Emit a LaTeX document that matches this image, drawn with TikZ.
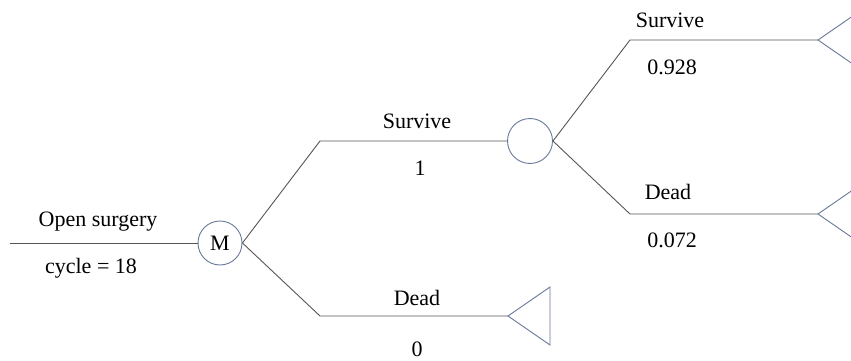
\documentclass[tikz,border=0pt]{standalone}
\usepackage{fontspec}
\setmainfont{Liberation Serif}
\definecolor{shapecol}{RGB}{105,120,155}
\definecolor{linecol}{RGB}{85,85,85}
\begin{document}
\begin{tikzpicture}[x=1pt,y=-1pt,
  branch/.style={draw=linecol, line width=0.9pt},
  nodeshape/.style={draw=shapecol, line width=0.9pt, fill=white},
  lbl/.style={font=\fontsize{22}{24}\selectfont, inner sep=0pt, text=black}]
\clip (0,0) rectangle (851,361);
\useasboundingbox (0,0) rectangle (851,361);
% markov node
\node[nodeshape, circle, minimum size=44pt, inner sep=0pt, lbl] (M) at (220,243) {M};
\coordinate (start) at (10,243);
\draw[branch] (start) -- (M.west);
\node[lbl] (os) at (98,222) {Open surgery};
\node[lbl] (cy) at (91,268) {cycle = 18};
% chance node
\node[nodeshape, circle, minimum size=45pt, inner sep=0pt] (C) at (530,141) {};
% bends
\coordinate (b1) at (320,141);
\coordinate (b2) at (320,316);
\coordinate (b3) at (630,40);
\coordinate (b4) at (630,214);
% terminal tips
\coordinate (t1) at (508,316);
\coordinate (t2) at (818,40);
\coordinate (t3) at (818,214);
\draw[branch] (M.east) -- (b1) -- (C.west);
\draw[branch] (M.east) -- (b2) -- (t1);
\draw[branch] (C.east) -- (b3) -- (t2);
\draw[branch] (C.east) -- (b4) -- (t3);
\foreach \t in {t1,t2,t3}
  \draw[nodeshape, line join=miter] (\t) -- ++(42,-29) -- ++(0,58) -- cycle;
% labels
\node[lbl] (l1) at (417,121) {Survive};
\node[lbl] (p1) at (420,168) {1};
\node[lbl] (l2) at (417,298) {Dead};
\node[lbl] (p2) at (417,349) {0};
\node[lbl] (l3) at (670,20) {Survive};
\node[lbl] (p3) at (672,67) {0.928};
\node[lbl] (l4) at (668,192) {Dead};
\node[lbl] (p4) at (672,240) {0.072};
\end{tikzpicture}
\end{document}
